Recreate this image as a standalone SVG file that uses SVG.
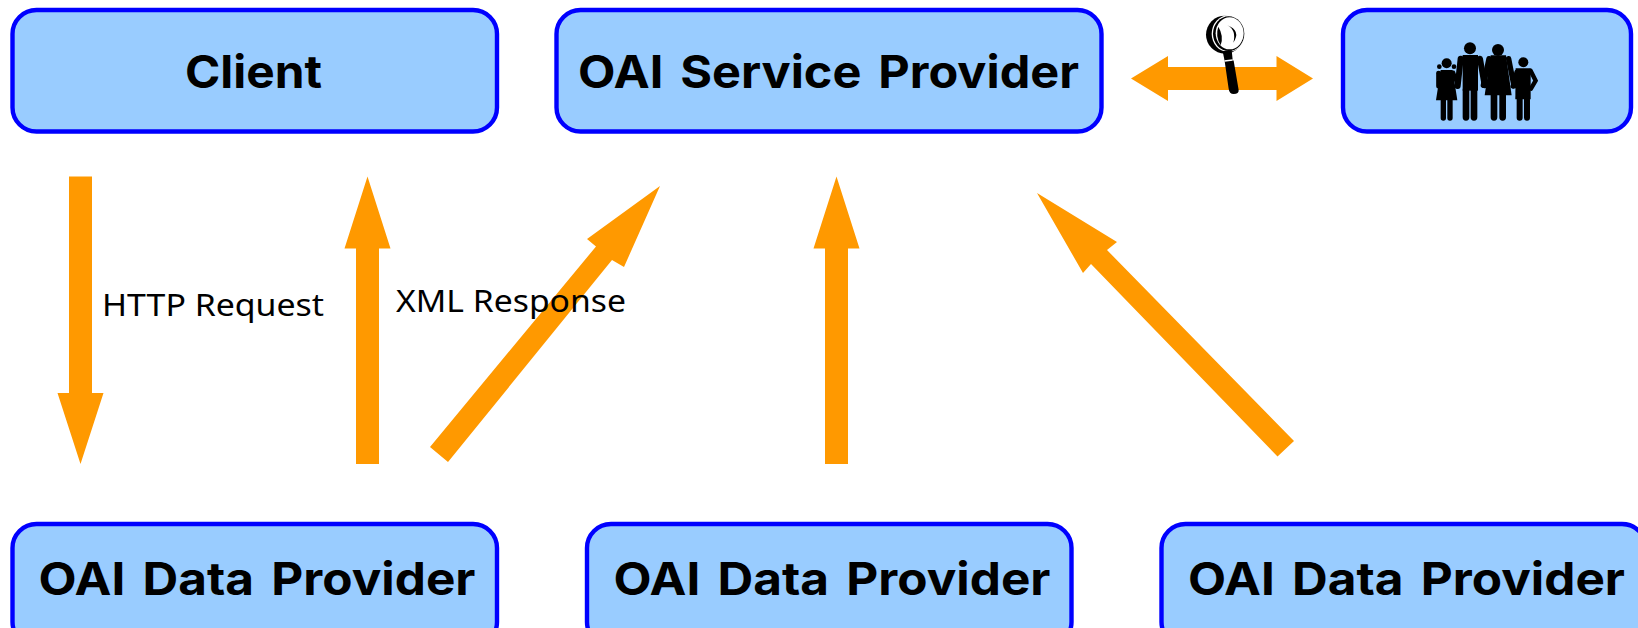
<svg xmlns="http://www.w3.org/2000/svg" width="1638" height="628" viewBox="0 0 1638 628">
<style>
.box{fill:#99ccff;stroke:#0000ff;stroke-width:4.4}
.t{font-family:Inter,"DejaVu Sans",sans-serif;font-weight:bold;font-size:45px;fill:#000;word-spacing:5px}
.l{font-family:"Noto Sans","DejaVu Sans",sans-serif;font-size:31px;fill:#000}
.a{fill:#ff9900}
.k{fill:#000}
.w{fill:#fff}
.s{stroke:#000;stroke-linecap:round;fill:none}
</style>
<rect width="1638" height="628" fill="#fff"/>
<g id="connectors">
<polygon class="a" points="69,176.5 92,176.5 92,393 103.5,393 80.5,464 57.5,393 69,393"/>
<polygon class="a" points="356,464 379,464 379,248.5 390.5,248.5 367.5,176.5 344.5,248.5 356,248.5"/>
<polygon class="a" points="825,464 848,464 848,248.5 859.5,248.5 836.5,176.5 813.5,248.5 825,248.5"/>
<polygon class="a" points="430,447 448,462 612,260 624,267 660,186 587,239 596,246.5"/>
<polygon class="a" points="1294,441 1277.5,456.5 1091,264 1083,273 1037,193 1117,242 1107,250"/>
<polygon id="double-arrow" class="a" points="1131,78.5 1168,56 1168,67 1276.5,67 1276.5,56 1313,78.5 1276.5,101 1276.5,90 1168,90 1168,101"/>
</g>
<g id="client"><rect class="box" x="12.5" y="10" width="484.500" height="121.500" rx="24"/><text class="t" x="185" y="88" textLength="137" lengthAdjust="spacingAndGlyphs">Client</text></g>
<g id="service-provider"><rect class="box" x="556.5" y="10" width="545" height="121.500" rx="24"/><text class="t" x="578" y="88" textLength="501" lengthAdjust="spacingAndGlyphs">OAI Service Provider</text></g>
<g id="users"><rect class="box" x="1343" y="10" width="288" height="121.500" rx="24"/>
<g transform="translate(1400 20) scale(.3333)">
<g class="k">
<circle cx="140" cy="130" r="15"/><circle cx="118" cy="140" r="7"/><circle cx="162" cy="140" r="7"/>
<polygon points="122,150 158,150 172,241 108,241"/>
<circle cx="210" cy="85" r="18"/>
<path d="M188 105H234V212H188Z"/>
<circle cx="294" cy="90" r="18"/>
<polygon points="272,106 318,106 335,226 254,226"/>
<circle cx="370" cy="127" r="15"/>
<polygon points="347,145 392,145 392,238 346,238"/>
</g>
<g class="s" stroke-width="16">
<path stroke-width="15" d="M116 160V198"/><path stroke-width="12" d="M160 158L174 198"/>
<path d="M130 241V294M150 241V294"/>
<path stroke-width="18" d="M182 116L173 198"/><path stroke-width="18" d="M240 116L254 196"/>
<path stroke-width="20" d="M198 210V292M222 210V292"/>
<path d="M267 116L250 196M326 116L342 198"/>
<path stroke-width="20" d="M282 225V292M308 225V292"/>
<path stroke-width="13" d="M350 155L338 199M392 152L407 182L393 206"/>
<path stroke-width="18" d="M359 238V293M381 238V293"/>
</g></g></g>
<g id="magnifier" transform="translate(1200 10) scale(.3333)">
<circle class="k" cx="75" cy="74" r="57"/>
<ellipse class="w" cx="85" cy="71" rx="50" ry="55"/>
<ellipse class="k" cx="86" cy="71" rx="47" ry="52"/>
<ellipse class="w" cx="89" cy="70" rx="42" ry="48"/>
<path class="k" d="M55 50Q45 78 62 106Q72 78 55 50ZM82 46Q110 60 100 98Q124 62 82 46Z"/>
<path class="k" d="M68 124L95 120L98 150L101 152L116 240Q117 252 101 252Q88 252 86 236L74 154Z"/>
<path class="w" d="M73 151L98 148L98 152L74 155Z"/>
</g>
<g id="data-provider-1"><rect class="box" x="12.5" y="524" width="484.500" height="122" rx="24"/><text class="t" x="38.500" y="595" textLength="437" lengthAdjust="spacingAndGlyphs">OAI Data Provider</text></g>
<g id="data-provider-2"><rect class="box" x="587" y="524" width="484.500" height="122" rx="24"/><text class="t" x="613.500" y="595" textLength="437" lengthAdjust="spacingAndGlyphs">OAI Data Provider</text></g>
<g id="data-provider-3"><rect class="box" x="1161.500" y="524" width="484.500" height="122" rx="24"/><text class="t" x="1188" y="595" textLength="437" lengthAdjust="spacingAndGlyphs">OAI Data Provider</text></g>
<text class="l" x="102" y="315.500" textLength="222" lengthAdjust="spacingAndGlyphs">HTTP Request</text>
<text class="l" x="396" y="311.500" textLength="230" lengthAdjust="spacingAndGlyphs">XML Response</text>
</svg>
